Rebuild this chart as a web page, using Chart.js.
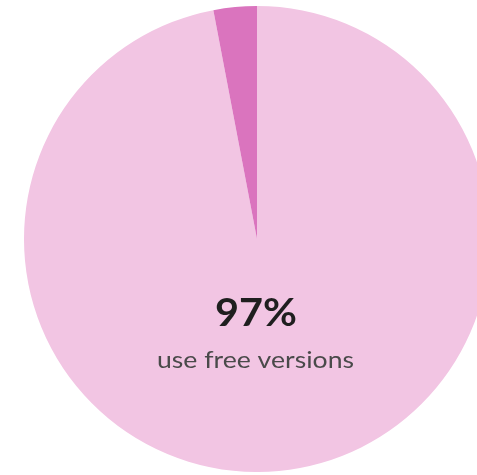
<!DOCTYPE html>
<html>
<head>
<meta charset="utf-8">
<script src="https://cdn.jsdelivr.net/npm/chart.js@4"></script>
<style>
  html, body { margin: 0; padding: 0; background: #fff; overflow: hidden; width: 477px; height: 475px; }
  #wrap { position: absolute; left: 24px; top: 6px; width: 466px; height: 466px; }
</style>
</head>
<body>
<div id="wrap"><canvas id="pie" width="466" height="466"></canvas></div>
<script>
const labels = ['Free versions', 'Paid versions'];
const shares = [97, 3];
const colors = ['#f2c5e3', '#da74be'];
const headline = '97%';
const caption = 'use free versions';

// texte étiré pour tenir dans une largeur donnée
function drawFitted(ctx, text, x, y, width) {
    const w = ctx.measureText(text).width;
    const sx = width / w;
    ctx.save();
    ctx.translate(x, y);
    ctx.scale(sx, 1);
    ctx.fillText(text, 0, 0);
    ctx.restore();
}

const centerText = {
    id: 'centerText',
    afterDraw(chart) {
        const ctx = chart.ctx;
        const cx = chart.chartArea.left + (chart.chartArea.right - chart.chartArea.left) / 2;
        ctx.save();
        ctx.textAlign = 'center';
        ctx.textBaseline = 'alphabetic';
        ctx.fillStyle = '#1f1f1f';
        ctx.font = 'bold 39px Lato';
        drawFitted(ctx, headline, cx - 1, 320, 82);
        ctx.fillStyle = '#4a4a4a';
        ctx.font = '23px Lato';
        drawFitted(ctx, caption, cx - 1.5, 362, 197);
        ctx.restore();
    }
};

new Chart(document.getElementById('pie'), {
    type: 'pie',
    data: {
        labels: labels,
        datasets: [{
            data: shares,
            backgroundColor: colors,
            borderWidth: 0
        }]
    },
    options: {
        responsive: false,
        animation: false,
        layout: { padding: 0 },
        plugins: {
            legend: { display: false },
            tooltip: { enabled: false }
        }
    },
    plugins: [centerText]
});
</script>
</body>
</html>
